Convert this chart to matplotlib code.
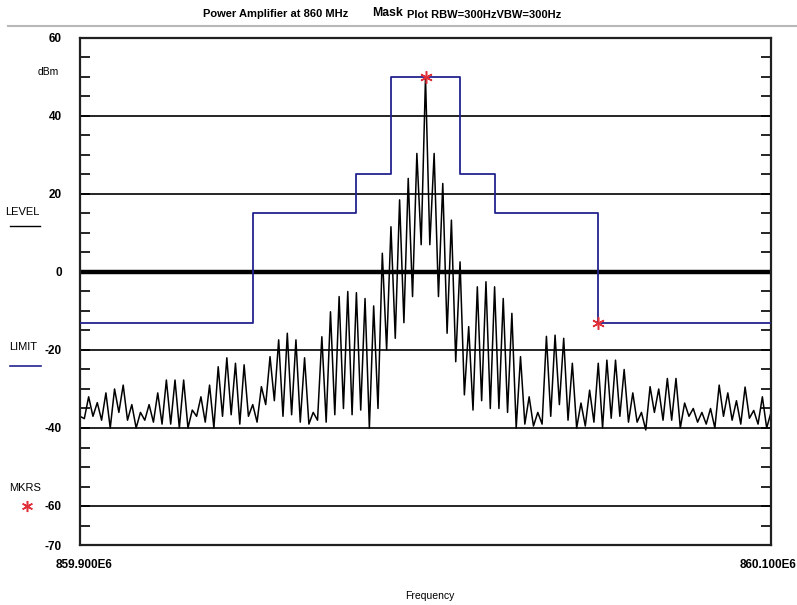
import numpy as np
import matplotlib
matplotlib.use("Agg")
import matplotlib.pyplot as plt
from matplotlib.lines import Line2D
from matplotlib.transforms import ScaledTranslation

# spectrum: one peak per tone (860 MHz +/- 40 tones, 2.5 kHz apart), dBm
peak_levels = [
    -37, -32, -33.5, -31, -30, -29, -34, -36, -34, -31,
    -27.7, -27.7, -27.7, -35.4, -32, -29, -24.3, -22, -23.4, -23.8,
    -34, -29.4, -21.7, -17.4, -15.7, -17.4, -22, -36, -16.6, -10.2,
    -6.3, -5, -5.3, -6.8, -8.7, 4.8, 11.6, 18.5, 24, 30.4,
    50,
    30.4, 22.7, 13.3, 2.6, -14, -3.8, -2.5, -3.8, -6.8, -10.6,
    -21.7, -32, -36, -16.5, -16.2, -17, -23.4, -33.6, -30.3, -23.4,
    -22.6, -22.6, -25, -31, -36, -29.4, -30, -27.3, -27.3, -33.6,
    -35, -36, -35, -29, -31, -33, -29.5, -35.5, -32, -36,
]
# minimum between neighbouring tones
trough_levels = [
    -37.6, -37, -38, -40, -36, -38, -40, -38, -38.5, -39,
    -39, -40, -40, -37, -38.5, -40, -37, -36.6, -39, -37,
    -38.5, -34, -33, -37, -36.6, -38.5, -39, -38, -38.5, -36.6,
    -35, -36.6, -35.4, -40, -35, -20, -17, -13, -6.3, 7,
    7, -6.3, -15.7, -23, -31.5, -35.4, -33, -35, -35, -36,
    -40, -39, -39.5, -39, -37, -34, -38, -40, -39.5, -38.5,
    -40, -37.5, -37, -38.5, -38.5, -40.5, -36, -38, -38, -40,
    -37, -38.5, -39, -40, -37, -38, -39, -37.5, -39, -40,
]
center_hz = 860.0e6
tone_step_hz = 2.5e3

# limit mask
mask_freq_hz = [859.900e6, 859.950e6, 859.950e6, 859.980e6, 859.980e6, 859.990e6, 859.990e6,
                860.010e6, 860.010e6, 860.020e6, 860.020e6, 860.050e6, 860.050e6, 860.100e6]
mask_level = [-13, -13, 15, 15, 25, 25, 50, 50, 25, 25, 15, 15, -13, -13]

# markers
marker_freq_hz = [860.000e6, 860.050e6]
marker_level = [50, -13]

grid_levels = [40, 20, -20, -40, -60]
labeled_levels = [60, 40, 20, 0, -20, -40, -60, -70]

W, H = 797, 605
BLUE = "#23238f"
RED = "#e0303a"


def fx(px):
    return px / W


def fy(py):
    return 1 - py / H


plt.rcParams["font.family"] = ["Liberation Sans", "DejaVu Sans"]

fig = plt.figure(figsize=(W / 100, H / 100), dpi=100)
ax = fig.add_axes([fx(80), fy(545), (771 - 80) / W, (545 - 38) / H])

# build the zig-zag trace from the tone peaks and troughs
k = np.arange(-40, 41)
freqs = np.empty(len(peak_levels) + len(trough_levels))
levels = np.empty_like(freqs)
freqs[0::2] = center_hz + k * tone_step_hz
freqs[1::2] = center_hz + (k[:-1] + 0.5) * tone_step_hz
levels[0::2] = peak_levels
levels[1::2] = trough_levels

for g in grid_levels:
    ax.axhline(g, color="black", lw=1.2, zorder=1)
ax.axhline(0, color="black", lw=3.2, zorder=1)

ax.plot(freqs, levels, color="black", lw=1.1, zorder=2)
ax.plot(mask_freq_hz, mask_level, color=BLUE, lw=1.3, zorder=3)
ax.plot(marker_freq_hz, marker_level, ls="none", marker=(6, 2, 0), ms=9, mew=1.1,
        color=RED, zorder=4)

ax.set_xlim(859.9e6, 860.1e6)
ax.set_ylim(-70, 60)

yt = np.arange(-70, 61, 5)
ax.set_yticks(yt)
ax.set_yticklabels([str(v) if v in labeled_levels else "" for v in yt],
                   fontsize=8.5, fontweight="bold")
ax.tick_params(axis="y", direction="in", length=7, width=1.2, left=True, right=True, pad=13)
ax.set_xticks([859.9e6, 860.1e6])
ax.set_xticklabels(["859.900E6", "860.100E6"], fontsize=8.5, fontweight="bold")
ax.tick_params(axis="x", length=0, pad=10)
# keep the right-hand frequency label inside the picture
xl = ax.get_xticklabels()
xl[0].set_transform(xl[0].get_transform() + ScaledTranslation(4 / 100, 0, fig.dpi_scale_trans))
xl[1].set_horizontalalignment("right")
xl[1].set_transform(xl[1].get_transform() + ScaledTranslation(25 / 100, 0, fig.dpi_scale_trans))
for s in ax.spines.values():
    s.set_linewidth(1.6)
    s.set_color("#202020")

# title bar
fig.text(fx(203), fy(14), "Power Amplifier at 860 MHz", ha="left", va="center",
         fontsize=8, fontweight="bold")
fig.text(fx(372), fy(13), "Mask", ha="left", va="center", fontsize=8.8, fontweight="bold")
fig.text(fx(407), fy(15), "Plot RBW=300HzVBW=300Hz", ha="left", va="center",
         fontsize=8, fontweight="bold")
fig.add_artist(Line2D([fx(8), 1], [fy(26), fy(26)], color="#b8b8b8", lw=1.5))

# left legend column
fig.text(fx(48), fy(72), "dBm", ha="center", va="center", fontsize=7.5)
fig.text(fx(39), fy(212), "LEVEL", ha="right", va="center", fontsize=8)
fig.add_artist(Line2D([fx(10), fx(40)], [fy(226), fy(226)], color="black", lw=1))
fig.text(fx(9), fy(347), "LIMIT", ha="left", va="center", fontsize=8)
fig.add_artist(Line2D([fx(10), fx(41)], [fy(366), fy(366)], color=BLUE, lw=1.2))
fig.text(fx(9), fy(488), "MKRS", ha="left", va="center", fontsize=8)
fig.add_artist(Line2D([fx(27)], [fy(506)], ls="none", marker=(6, 2, 0), ms=8, mew=1.1,
                      color=RED))

fig.text(fx(430), fy(596), "Frequency", ha="center", va="center", fontsize=7.5)

fig.savefig("out.png", dpi=100)
